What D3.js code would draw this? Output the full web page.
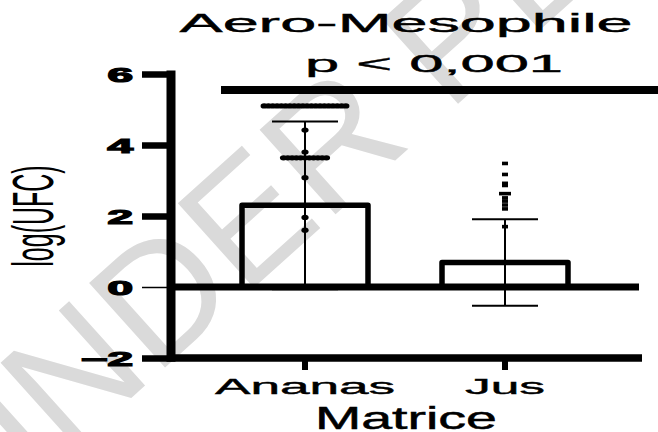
<!DOCTYPE html>
<html>
<head>
<meta charset="utf-8">
<script src="https://cdn.jsdelivr.net/npm/d3@7"></script>
<style>
  body { margin: 0; background: #fff; }
  text { font-family: "Liberation Sans", Arial, sans-serif; }
</style>
</head>
<body>
<div id="chart"></div>
<script>
// categories and summary values (mean / SD of log(UFC))
const categories = ["Ananas", "Jus"]
const means = [2.3, 0.69]
const sds = [2.36, 1.22]
// individual points (equal values sit side by side)
const ananasPoints = [
  5.1, 5.1, 5.1, 5.1, 5.1, 5.1, 5.1, 5.1, 5.1, 5.1,
  5.1, 5.1, 5.1, 5.1, 5.1, 5.1, 5.1, 5.1, 5.1, 5.1,
  4.42, 3.8,
  3.64, 3.64, 3.64, 3.64, 3.64, 3.64, 3.64, 3.64, 3.64, 3.64, 3.64,
  3.08, 1.96, 1.6]
const jusPoints = [3.48, 3.17, 2.92, 2.86, 2.63, 2.63, 2.51, 2.42, 2.31, 2.2, 1.7]
const yTicks = [-2, 0, 2, 4, 6]
const pValue = 5.55 // height of the significance bar

const width = 658, height = 432

const svg = d3.select('#chart')
  .append('svg')
  .attr('width', width)
  .attr('height', height)

// scales
const y = d3.scaleLinear().domain([-2, 6]).range([358, 74])
const x = d3.scaleBand().domain(categories).range([205, 605])
const cx = d => x(d) + x.bandwidth() / 2
const axisX = 171, axisEnd = 642
const barW = 126, capW = 66

// watermark behind everything
svg.append('text')
  .attr('transform', 'translate(-22,536) rotate(-42)')
  .text('UNDER PEER REVIEW')
  .style('font-size', '165px')
  .style('fill', '#dadada')

// significance bar
svg.append('line')
  .attr('x1', cx('Ananas') - 84)
  .attr('x2', width + 5)
  .attr('y1', y(pValue))
  .attr('y2', y(pValue))
  .style('stroke', 'black')
  .style('stroke-width', 8)

// title and p value (the picture is stretched horizontally)
svg.append('text')
  .attr('x', 406).attr('y', 31.5)
  .attr('text-anchor', 'middle')
  .attr('textLength', 453).attr('lengthAdjust', 'spacingAndGlyphs')
  .text('Aero-Mesophile')
  .style('font-size', '25px')
  .style('stroke', 'black').style('stroke-width', 0.4)

svg.append('text')
  .attr('x', 434).attr('y', 71.5)
  .attr('text-anchor', 'middle')
  .attr('textLength', 258).attr('lengthAdjust', 'spacingAndGlyphs')
  .text('p < 0,001')
  .style('font-size', '24.5px')
  .style('stroke', 'black').style('stroke-width', 0.4)

// bars
svg.selectAll('.bar')
  .data(categories)
  .enter().append('rect')
  .attr('class', 'bar')
  .attr('x', d => cx(d) - barW / 2)
  .attr('width', barW)
  .attr('y', (d, i) => y(means[i]))
  .attr('height', (d, i) => y(0) - y(means[i]))
  .style('fill', 'none')
  .style('stroke', 'black')
  .style('stroke-width', 5.5)
  .style('stroke-linejoin', 'round')

// error bars
const err = svg.selectAll('.err')
  .data(categories)
  .enter().append('g')
  .attr('class', 'err')
err.append('line')
  .attr('x1', d => cx(d)).attr('x2', d => cx(d))
  .attr('y1', (d, i) => y(means[i] + sds[i]))
  .attr('y2', (d, i) => y(means[i] - sds[i]))
  .style('stroke', 'black').style('stroke-width', 2)
err.selectAll('.cap')
  .data((d, i) => [means[i] + sds[i], means[i] - sds[i]].map(v => ({ c: d, v })))
  .enter().append('line')
  .attr('x1', d => cx(d.c) - capW / 2).attr('x2', d => cx(d.c) + capW / 2)
  .attr('y1', d => y(d.v)).attr('y2', d => y(d.v))
  .style('stroke', 'black').style('stroke-width', 2)

// spread equal values side by side, like Prism does
function spread(values, spacing) {
  const counts = d3.rollup(values, v => v.length, v => v)
  const seen = new Map()
  return values.map(v => {
    const n = counts.get(v)
    const k = seen.get(v) || 0
    seen.set(v, k + 1)
    return { v, dx: (k - (n - 1) / 2) * spacing }
  })
}

svg.selectAll('.pt-ananas')
  .data(spread(ananasPoints, 4.3))
  .enter().append('ellipse')
  .attr('class', 'pt-ananas')
  .attr('cx', d => cx('Ananas') + d.dx)
  .attr('cy', d => y(d.v))
  .attr('rx', 3.6).attr('ry', 2.6)
  .style('fill', 'black')

svg.selectAll('.pt-jus')
  .data(spread(jusPoints, 6))
  .enter().append('rect')
  .attr('class', 'pt-jus')
  .attr('x', d => cx('Jus') + d.dx - 3)
  .attr('y', d => y(d.v) - 1.8)
  .attr('width', 6).attr('height', 3.6)
  .style('fill', 'black')

// zero line
svg.append('line')
  .attr('x1', axisX).attr('x2', 639)
  .attr('y1', y(0)).attr('y2', y(0))
  .style('stroke', 'black').style('stroke-width', 7)

// x axis
svg.append('line')
  .attr('x1', axisX).attr('x2', axisEnd)
  .attr('y1', y(-2)).attr('y2', y(-2))
  .style('stroke', 'black').style('stroke-width', 7.5)

svg.selectAll('.xtick')
  .data(categories)
  .enter().append('line')
  .attr('class', 'xtick')
  .attr('x1', d => cx(d)).attr('x2', d => cx(d))
  .attr('y1', y(-2)).attr('y2', y(-2) + 12)
  .style('stroke', 'black').style('stroke-width', 6)

const xLabelWidth = { Ananas: 180, Jus: 80 }
svg.selectAll('.xlabel')
  .data(categories)
  .enter().append('text')
  .attr('class', 'xlabel')
  .attr('x', d => cx(d))
  .attr('y', 394)
  .attr('text-anchor', 'middle')
  .attr('textLength', d => xLabelWidth[d]).attr('lengthAdjust', 'spacingAndGlyphs')
  .text(d => d)
  .style('font-size', '22px')
  .style('stroke', 'black').style('stroke-width', 0.4)

svg.append('text')
  .attr('x', 406).attr('y', 429)
  .attr('text-anchor', 'middle')
  .attr('textLength', 182).attr('lengthAdjust', 'spacingAndGlyphs')
  .text('Matrice')
  .style('font-size', '32px')
  .style('stroke', 'black').style('stroke-width', 0.5)

// y axis
const yAxis = svg.append('g')
  .attr('transform', 'translate(' + axisX + ',0)')
  .call(d3.axisLeft(y).tickValues(yTicks).tickSize(29).tickSizeOuter(0).tickPadding(9))
yAxis.select('.domain')
  .attr('d', 'M0,' + (y(6) - 3.5) + 'V' + (y(-2) + 3.75))
  .style('stroke', 'black').style('stroke-width', 9)
yAxis.selectAll('.tick line')
  .style('stroke', 'black')
  .style('stroke-width', d => d === 0 ? 1.5 : 6.5)
yAxis.selectAll('.tick text')
  .attr('dy', null).attr('y', 7.5)
  .style('font-size', '19.5px').style('font-weight', 'bold')
  .style('font-family', '"Liberation Sans", Arial, sans-serif')
  .style('fill', 'black')
  .style('stroke', 'black').style('stroke-width', 1.2)
  .each(function () {
    const len = this.getComputedTextLength()
    d3.select(this).attr('textLength', len * 2.35).attr('lengthAdjust', 'spacingAndGlyphs')
  })

// y label, squeezed like the rest of the picture
svg.append('g')
  .attr('transform', 'translate(53,216) scale(2.3,1) rotate(-90)')
  .append('text')
  .attr('text-anchor', 'middle')
  .text('log(UFC)')
  .style('font-size', '25px')
</script>
</body>
</html>
